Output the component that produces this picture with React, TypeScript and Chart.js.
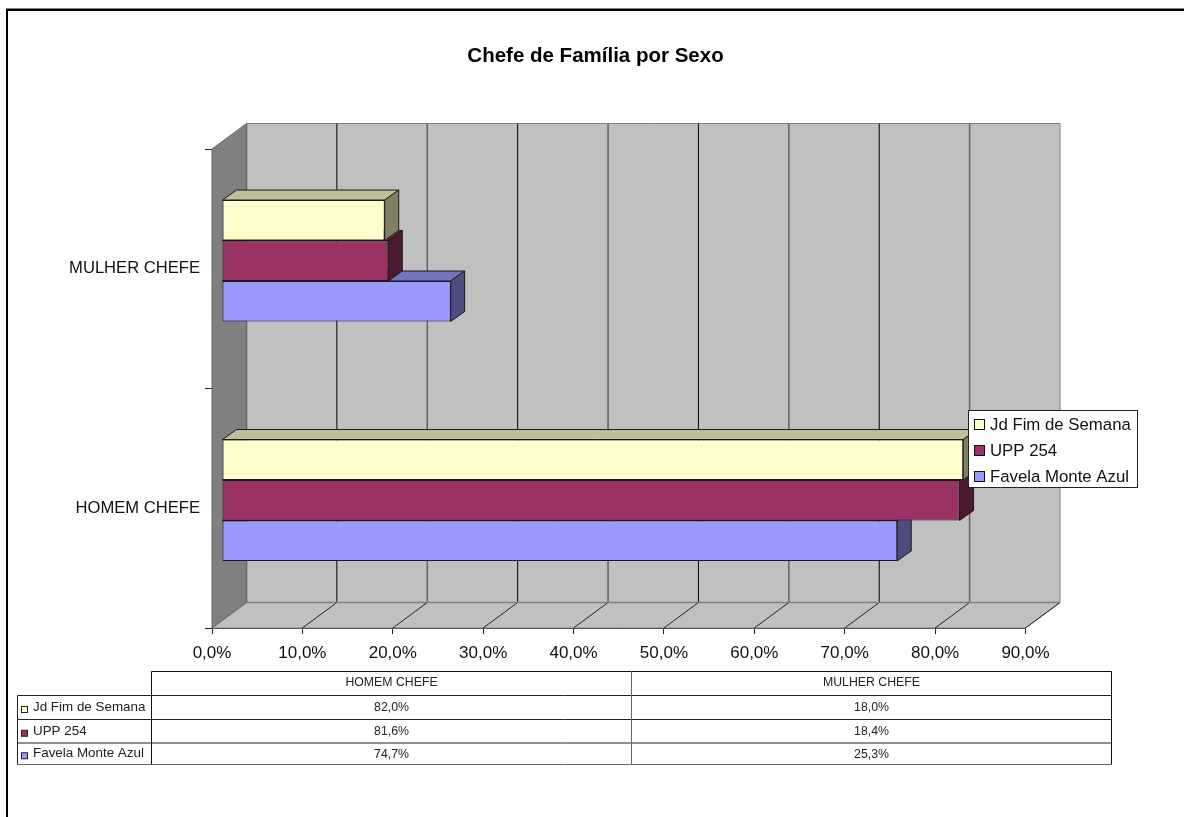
import React, { useEffect, useRef } from "react";
import { Chart, registerables } from "chart.js";

Chart.register(...registerables);

const TITLE = "Chefe de Família por Sexo";
const categories = ["MULHER CHEFE", "HOMEM CHEFE"];
const seriesNames = ["Jd Fim de Semana", "UPP 254", "Favela Monte Azul"];
const jdFimDeSemana = [18.0, 82.0];
const upp254 = [18.4, 81.6];
const favelaMonteAzul = [25.3, 74.7];
const frontColors = ["#FFFFCC", "#993366", "#9999FF"];
const topColors = ["#BFBF99", "#73264D", "#7373BF"];
const sideColors = ["#808066", "#4D1A33", "#4D4D80"];

const FONT = '"Liberation Sans", Arial, sans-serif';
const WALL_DX = 34.5;
const WALL_DY = -25.5;
const BAR_DX = 10;
const BAR_DY = -8;
const BAR_DEPTH_X = 14;
const BAR_DEPTH_Y = -10;

const fmt = (v: number) => v.toFixed(1).replace(".", ",") + "%";

function poly(ctx: CanvasRenderingContext2D, pts: number[][], fill: string, stroke?: string, lw = 1) {
  ctx.beginPath();
  pts.forEach((p, i) => (i ? ctx.lineTo(p[0], p[1]) : ctx.moveTo(p[0], p[1])));
  ctx.closePath();
  ctx.fillStyle = fill;
  ctx.fill();
  if (stroke) {
    ctx.strokeStyle = stroke;
    ctx.lineWidth = lw;
    ctx.stroke();
  }
}

function line(ctx: CanvasRenderingContext2D, x1: number, y1: number, x2: number, y2: number, color: string, lw = 1) {
  ctx.beginPath();
  ctx.moveTo(x1, y1);
  ctx.lineTo(x2, y2);
  ctx.strokeStyle = color;
  ctx.lineWidth = lw;
  ctx.stroke();
}

const wallsPlugin = {
  id: "walls",
  beforeDatasetsDraw(chart: any) {
    const { ctx, chartArea: a, scales } = chart;
    const bx = a.left + WALL_DX;
    const br = a.right + WALL_DX;
    const bt = a.top + WALL_DY;
    const bb = a.bottom + WALL_DY;
    ctx.save();
    poly(ctx, [[bx, bt], [br, bt], [br, bb], [bx, bb]], "#C0C0C0", "#808080", 1);
    poly(ctx, [[a.left, a.bottom], [bx, bb], [br, bb], [a.right, a.bottom]], "#C0C0C0", "#808080", 1);
    poly(ctx, [[a.left, a.top], [bx, bt], [bx, bb], [a.left, a.bottom]], "#808080", "#666666", 1);
    const ticks = scales.x.ticks;
    ticks.forEach((t: any, i: number) => {
      const x = scales.x.getPixelForValue(t.value);
      if (i > 0) line(ctx, x, a.bottom, x + WALL_DX, bb, "#222222", 1);
      if (i > 0 && i < ticks.length - 1) {
        if (i % 2 === 1) line(ctx, x + WALL_DX, bt, x + WALL_DX, bb, "#000000", 1);
        else line(ctx, x + WALL_DX, bt, x + WALL_DX, bb, "#666666", 1.6);
      }
    });
    line(ctx, bx, bb, br, bb, "#808080", 1.5);
    line(ctx, bx, bt, bx, bb, "#666666", 1.5);
    ctx.restore();
  },
  beforeDatasetDraw(chart: any, args: any) {
    const { ctx } = chart;
    const meta = chart.getDatasetMeta(args.index);
    ctx.save();
    ctx.translate(BAR_DX, BAR_DY);
    meta.data.forEach((el: any) => {
      const t = el.y - el.height / 2;
      const b = el.y + el.height / 2;
      const l = el.base;
      const r = el.x;
      poly(ctx, [[l, t], [l + BAR_DEPTH_X, t + BAR_DEPTH_Y], [r + BAR_DEPTH_X, t + BAR_DEPTH_Y], [r, t]], topColors[args.index], "#1a1a1a", 1);
      poly(ctx, [[r, t], [r + BAR_DEPTH_X, t + BAR_DEPTH_Y], [r + BAR_DEPTH_X, b + BAR_DEPTH_Y], [r, b]], sideColors[args.index], "#1a1a1a", 1);
    });
  },
  afterDatasetDraw(chart: any) {
    chart.ctx.restore();
  },
  afterDraw(chart: any) {
    const { ctx } = chart;
    ctx.save();
    // page frame
    ctx.fillStyle = "#808080";
    ctx.fillRect(6, 8, 1178, 1);
    ctx.fillStyle = "#000000";
    ctx.fillRect(6, 9, 1178, 2);
    ctx.fillRect(6, 9, 2, 808);

    // title
    ctx.fillStyle = "#000000";
    ctx.font = `bold 20.5px ${FONT}`;
    ctx.textAlign = "center";
    ctx.textBaseline = "middle";
    ctx.fillText(TITLE, 595.5, 56);

    // floating legend
    const sets = chart.data.datasets;
    ctx.fillStyle = "#FFFFFF";
    ctx.fillRect(968.5, 410.5, 169, 77);
    ctx.strokeStyle = "#222222";
    ctx.lineWidth = 1;
    ctx.strokeRect(968.5, 410.5, 169, 77);
    ctx.font = `16.8px ${FONT}`;
    ctx.textAlign = "left";
    ctx.textBaseline = "middle";
    sets.forEach((d: any, i: number) => {
      const y = 425 + i * 26;
      ctx.fillStyle = d.backgroundColor;
      ctx.fillRect(974.5, y - 5.5, 10, 10);
      ctx.strokeStyle = "#111111";
      ctx.strokeRect(974.5, y - 5.5, 10, 10);
      ctx.fillStyle = "#111111";
      ctx.fillText(d.label, 990, y + 0.5);
    });

    // data table
    const xs = [151.5, 631.5, 1111.5];
    const ys = [671.5, 695.5, 719.5, 743, 764.5];
    const stub = 17.5;
    ctx.strokeStyle = "#111111";
    ctx.lineWidth = 1;
    line(ctx, xs[0], ys[0], xs[2], ys[0], "#111111");
    ys.slice(1).forEach((y, i) => line(ctx, stub, y, xs[2], y, i === 3 ? "#666666" : "#222222"));
    line(ctx, stub, ys[1], stub, ys[4], "#222222");
    line(ctx, xs[0], ys[0], xs[0], ys[4], "#111111");
    line(ctx, xs[1], ys[0], xs[1], ys[4], "#666666");
    line(ctx, xs[2], ys[0], xs[2], ys[4], "#111111");

    const n = chart.data.labels.length;
    ctx.textAlign = "center";
    ctx.font = `12.3px ${FONT}`;
    ctx.fillStyle = "#222222";
    for (let c = 0; c < n; c++) {
      const src = n - 1 - c;
      const cx = (xs[c] + xs[c + 1]) / 2;
      ctx.fillText(chart.data.labels[src], cx, 683);
      sets.forEach((d: any, i: number) => {
        ctx.fillText(fmt(d.data[src]), cx, (ys[i + 1] + ys[i + 2]) / 2 + 0.5);
      });
    }
    ctx.textAlign = "left";
    sets.forEach((d: any, i: number) => {
      const y = (ys[i + 1] + ys[i + 2]) / 2;
      ctx.fillStyle = d.backgroundColor;
      ctx.fillRect(21.5, y - 1, 6, 6);
      ctx.strokeStyle = "#222222";
      ctx.strokeRect(21.5, y - 1, 6, 6);
      ctx.fillStyle = "#222222";
      ctx.font = `13.4px ${FONT}`;
      ctx.fillText(d.label, 33, y);
    });
    ctx.restore();
  },
};

export default function App() {
  const ref = useRef<HTMLCanvasElement | null>(null);
  useEffect(() => {
    if (!ref.current) return;
    const values = [jdFimDeSemana, upp254, favelaMonteAzul];
    const chart = new Chart(ref.current, {
      type: "bar",
      data: {
        labels: categories,
        datasets: values.map((data, i) => ({
          label: seriesNames[i],
          data,
          backgroundColor: frontColors[i],
          borderColor: "#1a1a1a",
          borderWidth: 1,
          borderSkipped: false,
          categoryPercentage: 0.507,
          barPercentage: 1,
          clip: false as any,
        })),
      },
      options: {
        indexAxis: "y",
        responsive: false,
        animation: false,
        layout: { padding: { left: 0, right: 158.5, top: 149, bottom: 0 } },
        plugins: {
          legend: { display: false },
          tooltip: { enabled: false },
          title: { display: false },
        },
        scales: {
          x: {
            min: 0,
            max: 90,
            ticks: {
              stepSize: 10,
              color: "#111111",
              font: { family: FONT, size: 17 },
              padding: 9,
              maxRotation: 0,
              callback: (v: any) => fmt(Number(v)),
            },
            grid: { drawOnChartArea: false, drawTicks: true, tickLength: 6, color: "#222222" },
            border: { display: true, color: "#333333" },
            afterFit: (s: any) => {
              s.height = 189;
            },
          },
          y: {
            ticks: {
              color: "#111111",
              font: { family: FONT, size: 16.6 },
              padding: 5,
            },
            grid: { offset: true, drawOnChartArea: false, drawTicks: true, tickLength: 7, color: "#222222" },
            border: { display: true, color: "#111111" },
            afterFit: (s: any) => {
              s.width = 212;
            },
          },
        },
      },
      plugins: [wallsPlugin],
    } as any);
    return () => chart.destroy();
  }, []);
  return (
    <div style={{ position: "absolute", left: 0, top: 0, width: 1184, height: 817, background: "#fff" }}>
      <canvas ref={ref} width={1184} height={817} style={{ display: "block" }} />
    </div>
  );
}
